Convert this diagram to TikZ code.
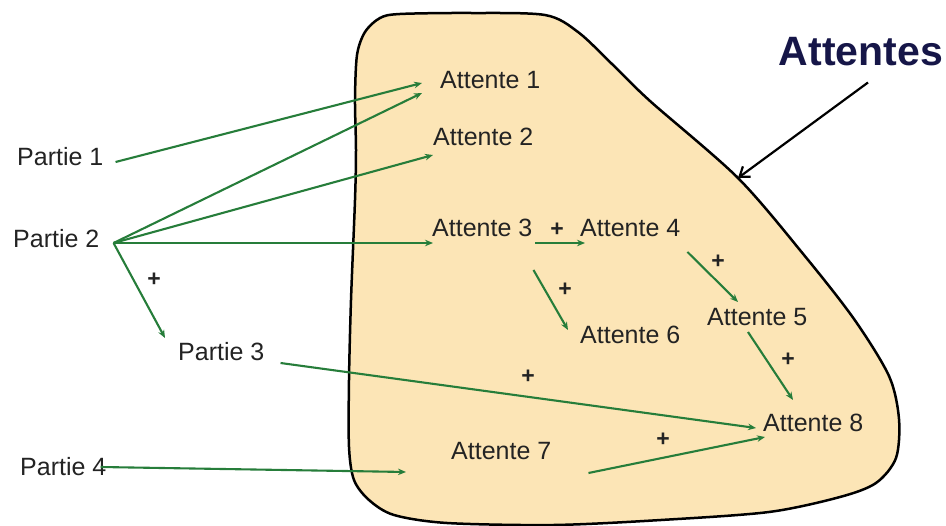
\documentclass[tikz,border=0pt]{standalone}
\usepackage{fontspec}
\setmainfont{Liberation Sans}
\usetikzlibrary{arrows.meta,calc}
\definecolor{blobfill}{RGB}{252,229,182}
\definecolor{arrgreen}{RGB}{38,125,58}
\definecolor{titlenavy}{RGB}{22,22,72}
\definecolor{txtgray}{RGB}{35,35,35}
\begin{document}
\begin{tikzpicture}[x=1pt,y=-1pt,
  lbl/.style={anchor=west,inner sep=0pt,text=txtgray,font=\fontsize{25}{29}\selectfont},
  plus/.style={inner sep=0pt,text=txtgray,font=\bfseries\fontsize{23}{26}\selectfont},
  garrow/.style={draw=arrgreen,line width=2.1pt,-{Stealth[length=8pt,width=6.5pt]}},
  barrow/.style={draw=black,line width=2.2pt,-{Straight Barb[length=9pt,width=13pt]}},
]
\useasboundingbox (0,0) rectangle (946,526);
% region
\draw[line width=2.5pt,fill=blobfill] plot[smooth cycle,tension=0.5] coordinates {
  (380,18) (400,14) (470,13) (545,15) (578,32) (612,64) (650,101) (738,178)
  (804,255) (854,319) (889,376) (899,419) (896,458) (876,483) (840,497)
  (769,512) (661,520) (554,525) (447,523) (394,515) (369,500) (354,480)
  (349,447) (349,380) (351,300) (355,200) (356,150) (355,100) (357,55) (365,32)};
% title
\node[inner sep=0pt,font=\bfseries\fontsize{41}{46}\selectfont,text=titlenavy] (title) at (861,52) {Attentes};
\coordinate (edge) at (738,178);
\draw[barrow] ($(title.south)+(7,16)$) -- (edge);
% labels
\node[lbl] (p1) at (17,157) {Partie 1};
\node[lbl] (p2) at (13,239) {Partie 2};
\node[lbl] (p3) at (178,352) {Partie 3};
\node[lbl] (p4) at (20,467) {Partie 4};
\node[lbl] (a1) at (440,80) {Attente 1};
\node[lbl] (a2) at (433,137) {Attente 2};
\node[lbl] (a3) at (432,228) {Attente 3};
\node[lbl] (a4) at (580,228) {Attente 4};
\node[lbl] (a5) at (707,317) {Attente 5};
\node[lbl] (a6) at (580,335) {Attente 6};
\node[lbl] (a7) at (451,451) {Attente 7};
\node[lbl] (a8) at (763,423) {Attente 8};
% plus signs
\node[plus] (s1) at (154,280) {+};
\node[plus] (s2) at (557,230) {+};
\node[plus] (s3) at (565,290) {+};
\node[plus] (s4) at (718,262) {+};
\node[plus] (s5) at (788,360) {+};
\node[plus] (s6) at (528,377) {+};
\node[plus] (s7) at (663,440) {+};
% connectors
\draw[garrow] ($(p1.east)+(12,5)$) -- ($(a1.west)+(-18,3)$);
\draw[garrow] ($(p2.east)+(14,4)$) -- ($(a1.west)+(-18,13)$);
\draw[garrow] ($(p2.east)+(14,4)$) -- ($(a2.west)+(0,18)$);
\draw[garrow] ($(p2.east)+(14,4)$) -- ($(a3.west)+(1,15)$);
\draw[garrow] ($(p2.east)+(14,4)$) -- ($(p3.west)+(-13,-14)$);
\draw[garrow] ($(a3.east)+(3,15)$) -- ($(a4.west)+(5,15)$);
\draw[garrow] ($(a3.east)+(1,42)$) -- ($(a6.west)+(-12,-5)$);
\draw[garrow] ($(a4.east)+(7,24)$) -- ($(a5.west)+(31,-15)$);
\draw[garrow] ($(a5.west)+(41,15)$) -- ($(a8.west)+(30,-23)$);
\draw[garrow] ($(p3.east)+(16,11)$) -- ($(a8.west)+(-7,5)$);
\draw[garrow] ($(a7.east)+(37,22)$) -- ($(a8.west)+(2,14)$);
\draw[garrow] ($(p4.east)+(-6,0)$) -- ($(a7.west)+(-45,21)$);
\end{tikzpicture}
\end{document}
